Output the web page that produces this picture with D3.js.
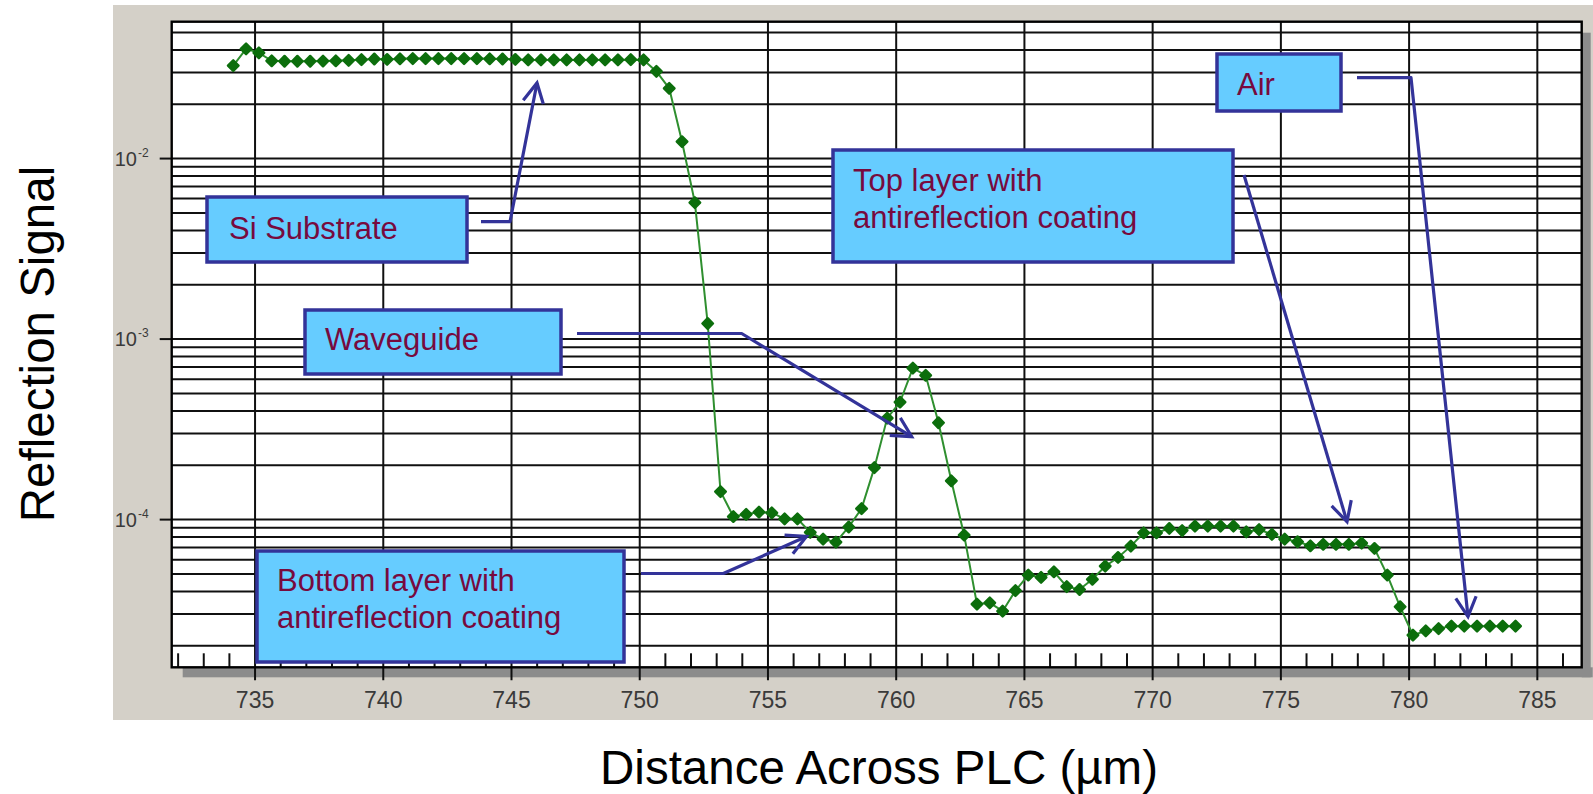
<!DOCTYPE html>
<html>
<head>
<meta charset="utf-8">
<script src="https://cdn.jsdelivr.net/npm/d3@7"></script>
<style>
  html, body { margin: 0; padding: 0; background: #fff; }
  svg { display: block; font-family: "Liberation Sans", Arial, sans-serif; }
</style>
</head>
<body>
<div id="chart"></div>
<script>
// distance across PLC (µm)
const distance = [
  734.15, 734.65, 735.15, 735.65, 736.15, 736.65, 737.15, 737.65, 738.15, 738.65,
  739.15, 739.65, 740.15, 740.65, 741.15, 741.65, 742.15, 742.65, 743.15, 743.65,
  744.15, 744.65, 745.15, 745.65, 746.15, 746.65, 747.15, 747.65, 748.15, 748.65,
  749.15, 749.65, 750.15, 750.65, 751.15, 751.65, 752.15, 752.65, 753.15, 753.65,
  754.15, 754.65, 755.15, 755.65, 756.15, 756.65, 757.15, 757.65, 758.15, 758.65,
  759.15, 759.65, 760.15, 760.65, 761.15, 761.65, 762.15, 762.65, 763.15, 763.65,
  764.15, 764.65, 765.15, 765.65, 766.15, 766.65, 767.15, 767.65, 768.15, 768.65,
  769.15, 769.65, 770.15, 770.65, 771.15, 771.65, 772.15, 772.65, 773.15, 773.65,
  774.15, 774.65, 775.15, 775.65, 776.15, 776.65, 777.15, 777.65, 778.15, 778.65,
  779.15, 779.65, 780.15, 780.65, 781.15, 781.65, 782.15, 782.65, 783.15, 783.65,
  784.15
];

// reflection signal
const reflection = [
  0.0327, 0.0405, 0.0385, 0.0348, 0.0346, 0.0346, 0.0346, 0.0347, 0.0348, 0.0350,
  0.0353, 0.0356, 0.0354, 0.0357, 0.0358, 0.0358, 0.0358, 0.0358, 0.0358, 0.0358,
  0.0357, 0.0356, 0.0354, 0.0352, 0.0352, 0.0352, 0.0352, 0.0352, 0.0352, 0.0352,
  0.0352, 0.0353, 0.0352, 0.0304, 0.0245, 0.0124, 0.0057, 0.00122, 1.43e-4, 1.04e-4,
  1.07e-4, 1.10e-4, 1.09e-4, 1.01e-4, 1.01e-4, 8.5e-5, 7.8e-5, 7.5e-5, 9.1e-5, 1.15e-4,
  1.94e-4, 3.65e-4, 4.48e-4, 6.9e-4, 6.3e-4, 3.44e-4, 1.64e-4, 8.2e-5, 3.4e-5, 3.46e-5,
  3.11e-5, 4.04e-5, 4.93e-5, 4.79e-5, 5.14e-5, 4.25e-5, 4.1e-5, 4.67e-5, 5.52e-5, 6.17e-5,
  7.13e-5, 8.45e-5, 8.45e-5, 8.93e-5, 8.7e-5, 9.2e-5, 9.2e-5, 9.2e-5, 9.2e-5, 8.55e-5,
  8.8e-5, 8.28e-5, 7.8e-5, 7.54e-5, 7.16e-5, 7.3e-5, 7.3e-5, 7.3e-5, 7.4e-5, 6.92e-5,
  4.93e-5, 3.29e-5, 2.29e-5, 2.42e-5, 2.49e-5, 2.57e-5, 2.57e-5, 2.57e-5, 2.57e-5, 2.57e-5,
  2.57e-5
];

const xTickLabels = [735, 740, 745, 750, 755, 760, 765, 770, 775, 780, 785];
const xMinorTicks = d3.range(732, 787, 1);
const yTickExponents = [-2, -3, -4];

const data = distance.map((d, i) => ({ x: d, y: reflection[i] }));

// callout boxes (layout only)
const callouts = [
  { lines: ["Si Substrate"], box: [207, 197, 260, 65], tx: 229, ty: [239],
    arrow: [[481, 221.7], [510, 221.7], [537, 83]] },
  { lines: ["Waveguide"], box: [305, 310, 256, 64], tx: 325, ty: [350],
    arrow: [[577, 333.5], [741.7, 333.5], [911.7, 436.7]] },
  { lines: ["Top layer with", "antireflection coating"], box: [833, 150, 400, 112], tx: 853, ty: [191, 228],
    arrow: [[1244, 175], [1347, 521.7]] },
  { lines: ["Air"], box: [1217, 54, 124, 57], tx: 1237, ty: [95],
    arrow: [[1357, 77.7], [1411, 77.7], [1468, 616.7]] },
  { lines: ["Bottom layer with", "antireflection coating"], box: [257, 551, 367, 111], tx: 277, ty: [591, 628],
    arrow: [[641, 573.5], [723.3, 573.5], [806.5, 536.5]] }
];

const width = 1593;
const height = 794;
const plot = { left: 171.7, right: 1581.7, top: 21.7, bottom: 667.3 };

const svg = d3.select("#chart")
  .append("svg")
  .attr("width", width)
  .attr("height", height);

const x = d3.scaleLinear()
  .domain([731.75, 786.73])
  .range([plot.left, plot.right]);

const y = d3.scaleLog()
  .domain([1.52e-5, 0.0573])
  .range([plot.bottom, plot.top]);

// grey panel and drop shadow
svg.append("rect")
  .attr("x", 113).attr("y", 5)
  .attr("width", width - 113).attr("height", 715)
  .attr("fill", "#d4d0c8");

svg.append("rect")
  .attr("x", plot.right).attr("y", plot.top + 11)
  .attr("width", 9).attr("height", plot.bottom - plot.top - 1)
  .attr("fill", "#8c8c8c");
svg.append("rect")
  .attr("x", plot.left + 11).attr("y", plot.bottom)
  .attr("width", plot.right - plot.left).attr("height", 10)
  .attr("fill", "#8c8c8c");

svg.append("rect")
  .attr("x", plot.left).attr("y", plot.top)
  .attr("width", plot.right - plot.left).attr("height", plot.bottom - plot.top)
  .attr("fill", "#ffffff");

// horizontal grid (log minor lines)
const grid = svg.append("g")
  .attr("stroke", "#101010")
  .attr("stroke-width", 2);

grid.selectAll("line.h")
  .data(y.ticks())
  .join("line")
  .attr("class", "h")
  .attr("x1", plot.left).attr("x2", plot.right)
  .attr("y1", d => y(d)).attr("y2", d => y(d));

// vertical grid + major ticks below axis
grid.selectAll("line.v")
  .data(xTickLabels)
  .join("line")
  .attr("class", "v")
  .attr("x1", d => x(d)).attr("x2", d => x(d))
  .attr("y1", plot.top).attr("y2", plot.bottom + 13);

// minor ticks along bottom
grid.selectAll("line.m")
  .data(xMinorTicks.filter(d => d % 5 !== 0))
  .join("line")
  .attr("class", "m")
  .attr("x1", d => x(d)).attr("x2", d => x(d))
  .attr("y1", plot.bottom - 14).attr("y2", plot.bottom);

// y major ticks outside frame
grid.selectAll("line.y")
  .data(yTickExponents)
  .join("line")
  .attr("class", "y")
  .attr("x1", plot.left - 12).attr("x2", plot.left)
  .attr("y1", d => y(Math.pow(10, d))).attr("y2", d => y(Math.pow(10, d)));

// frame
svg.append("rect")
  .attr("x", plot.left).attr("y", plot.top)
  .attr("width", plot.right - plot.left).attr("height", plot.bottom - plot.top)
  .attr("fill", "none")
  .attr("stroke", "#000")
  .attr("stroke-width", 2.4);

// x tick labels
svg.append("g")
  .selectAll("text")
  .data(xTickLabels)
  .join("text")
  .attr("x", d => x(d))
  .attr("y", 708)
  .attr("text-anchor", "middle")
  .attr("font-size", 23)
  .attr("fill", "#3a3a3a")
  .text(d => d);

// y tick labels 10^n
const yl = svg.append("g").attr("fill", "#3a3a3a");
yl.selectAll("text.base")
  .data(yTickExponents)
  .join("text")
  .attr("class", "base")
  .attr("x", 137)
  .attr("y", d => y(Math.pow(10, d)) + 7)
  .attr("text-anchor", "end")
  .attr("font-size", 20)
  .text("10");
yl.selectAll("text.exp")
  .data(yTickExponents)
  .join("text")
  .attr("class", "exp")
  .attr("x", 138)
  .attr("y", d => y(Math.pow(10, d)) - 2)
  .attr("font-size", 12)
  .text(d => "-" + Math.abs(d));

// data line and markers
const line = d3.line()
  .x(d => x(d.x))
  .y(d => y(d.y));

svg.append("path")
  .datum(data)
  .attr("fill", "none")
  .attr("stroke", "#2f8f2f")
  .attr("stroke-width", 2)
  .attr("d", line);

svg.append("g")
  .selectAll("path")
  .data(data)
  .join("path")
  .attr("transform", d => `translate(${x(d.x)},${y(d.y)}) rotate(45)`)
  .attr("d", d3.symbol().type(d3.symbolSquare).size(56))
  .attr("fill", "#0c6e0c")
  .attr("stroke", "#0c6e0c")
  .attr("stroke-width", 2.4)
  .attr("stroke-linejoin", "round");

// callouts
const arrowColor = "#333399";
callouts.forEach(c => {
  const g = svg.append("g");
  g.append("rect")
    .attr("x", c.box[0]).attr("y", c.box[1])
    .attr("width", c.box[2]).attr("height", c.box[3])
    .attr("fill", "#66ccff")
    .attr("stroke", arrowColor)
    .attr("stroke-width", 3.5);
  c.lines.forEach((t, i) => {
    g.append("text")
      .attr("x", c.tx).attr("y", c.ty[i])
      .attr("font-size", 31)
      .attr("fill", "#770a3e")
      .text(t);
  });
  g.append("polyline")
    .attr("points", c.arrow.map(p => p.join(",")).join(" "))
    .attr("fill", "none")
    .attr("stroke", arrowColor)
    .attr("stroke-width", 3.2)
    .attr("stroke-linejoin", "round");
  // open arrow head
  const n = c.arrow.length;
  const [tx, ty] = c.arrow[n - 1];
  const [px, py] = c.arrow[n - 2];
  const ang = Math.atan2(ty - py, tx - px);
  const len = 22, spread = Math.PI / 6.5;
  const head = [
    [tx - len * Math.cos(ang - spread), ty - len * Math.sin(ang - spread)],
    [tx, ty],
    [tx - len * Math.cos(ang + spread), ty - len * Math.sin(ang + spread)]
  ];
  g.append("polyline")
    .attr("points", head.map(p => p.join(",")).join(" "))
    .attr("fill", "none")
    .attr("stroke", arrowColor)
    .attr("stroke-width", 3.2)
    .attr("stroke-linejoin", "miter");
});

// axis titles
svg.append("text")
  .attr("x", 879)
  .attr("y", 784)
  .attr("text-anchor", "middle")
  .attr("font-size", 47.5)
  .attr("fill", "#000")
  .text("Distance Across PLC (µm)");

svg.append("text")
  .attr("transform", "translate(54,344) rotate(-90)")
  .attr("text-anchor", "middle")
  .attr("font-size", 47.5)
  .attr("fill", "#000")
  .text("Reflection Signal");
</script>
</body>
</html>
